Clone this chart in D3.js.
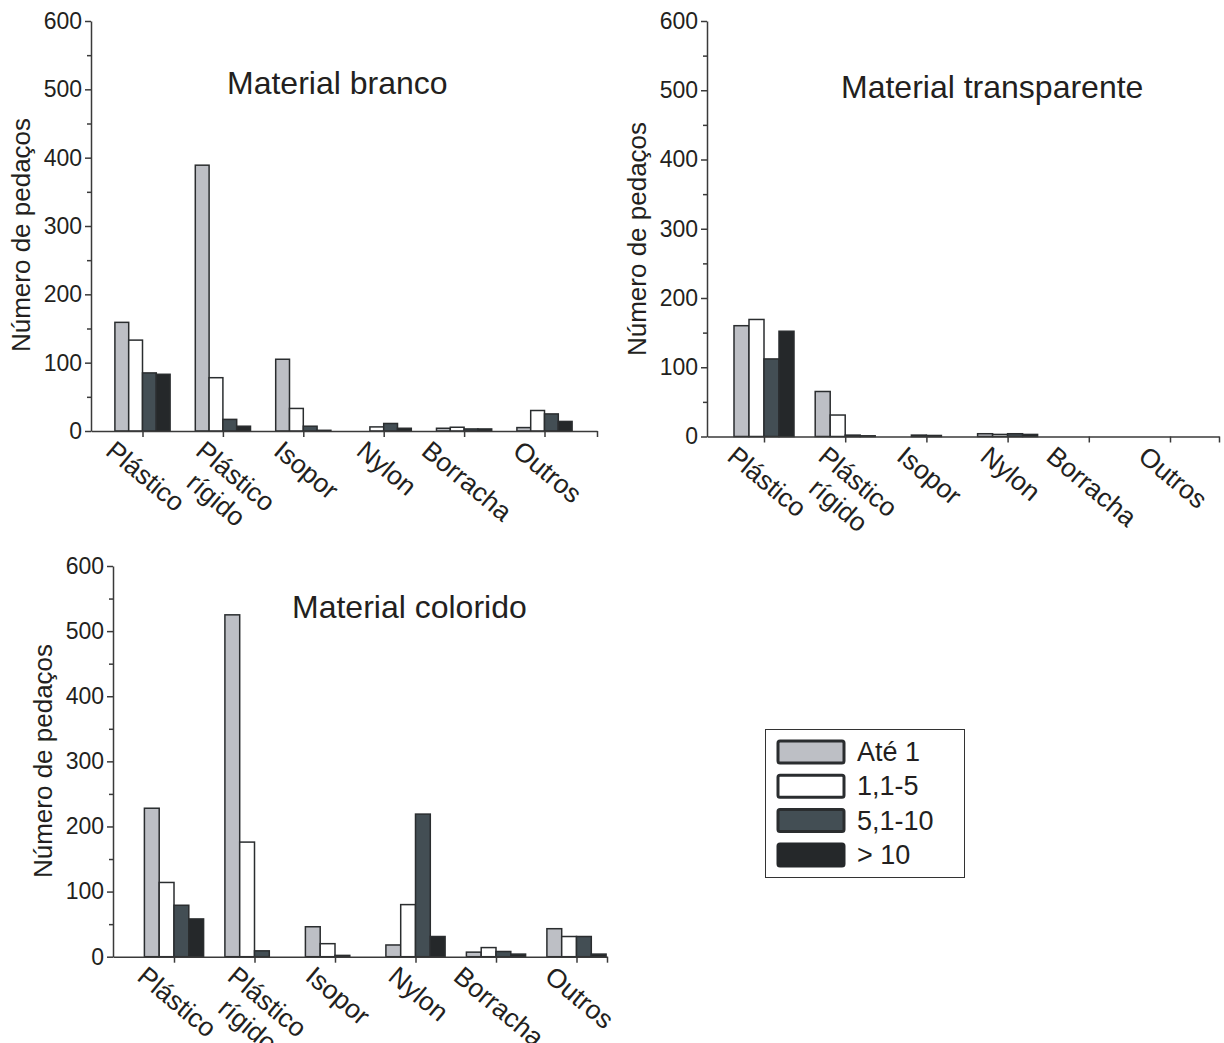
<!DOCTYPE html>
<html lang="pt">
<head>
<meta charset="utf-8">
<title>Número de pedaços por material</title>
<script src="https://cdn.jsdelivr.net/npm/d3@7"></script>
<style>
  body { margin: 0; background: #fff; }
  svg text { font-family: "Liberation Sans", Arial, sans-serif; fill: #231f20; }
</style>
</head>
<body>
<script>
// categories and size classes
var categories = ["Plástico", "Plástico\nrígido", "Isopor", "Nylon", "Borracha", "Outros"];
var sizeClasses = ["Até 1", "1,1-5", "5,1-10", "> 10"];
var yTicks = [0, 100, 200, 300, 400, 500, 600];

// values, one row per size class
var branco = [
  [159, 389, 105, 0, 4, 5],
  [133, 78, 33, 6, 5.5, 30],
  [85, 17, 7, 11, 3, 25],
  [83, 7, 1, 4, 3, 14]
];
var transparente = [
  [160, 65, 0, 4, 0, 0],
  [169, 31, 2, 3, 0, 0],
  [112, 2, 1.5, 4, 0, 0],
  [152, 1, 0, 3, 0, 0]
];
var colorido = [
  [228, 525, 46, 18, 7, 43],
  [114, 176, 20, 80, 14, 31],
  [79, 9, 2, 219, 8, 31],
  [58, 0, 0, 31, 4, 4]
];

var fills = ["#bdbfc5", "#ffffff", "#434e54", "#25282a"];
var strokeCol = "#2a2d2f";
var axisCol = "#3a3a3a";

var svg = d3.select("body").append("svg")
  .attr("width", 1224)
  .attr("height", 1043);

// layout of the three panels
var panels = [
  {title: "Material branco", data: branco, ax: 91, right: 597, y0: 431, yTop: 21,
   c0: 142.5, step: 80.4, bw: 13.8, tx: 227, ty: 94, ly: 235},
  {title: "Material transparente", data: transparente, ax: 707, right: 1219, y0: 436.5, yTop: 21,
   c0: 764, step: 81.2, bw: 15, tx: 841, ty: 98, ly: 239},
  {title: "Material colorido", data: colorido, ax: 113, right: 607, y0: 956.7, yTop: 566,
   c0: 174, step: 80.5, bw: 14.8, tx: 292, ty: 618, ly: 761}
];

panels.forEach(function(p) {
  var g = svg.append("g");

  var y = d3.scaleLinear().domain([0, 600]).range([p.y0, p.yTop]);
  var xStart = (p.ax - p.c0) / p.step;
  var xEnd = 5 + (p.right - (p.c0 + 5 * p.step)) / p.step;
  var x = d3.scaleLinear().domain([xStart, xEnd]).range([p.ax, p.right]);

  //bars
  p.data.forEach(function(series, j) {
    g.selectAll(null)
      .data(series.map(function(v, i) { return {i: i, v: v}; }).filter(function(d) { return d.v > 0; }))
      .enter().append("rect")
      .attr("x", function(d) { return x(d.i) + (j - 2) * p.bw; })
      .attr("width", p.bw)
      .attr("y", function(d) { return y(d.v); })
      .attr("height", function(d) { return p.y0 - y(d.v); })
      .attr("fill", fills[j])
      .attr("stroke", strokeCol)
      .attr("stroke-width", 1.5);
  });

  //y axis, major and minor ticks
  var yAxis = g.append("g")
    .attr("transform", "translate(" + p.ax + ",0)")
    .call(d3.axisLeft(y).tickValues(yTicks).tickSize(6).tickSizeOuter(0).tickPadding(3));
  yAxis.selectAll("text").style("font-size", "23px").attr("fill", "#231f20");
  g.append("g")
    .attr("transform", "translate(" + p.ax + ",0)")
    .call(d3.axisLeft(y).tickValues(d3.range(50, 600, 100)).tickSize(4).tickFormat(""))
    .select(".domain").remove();

  //x axis
  g.append("g")
    .attr("transform", "translate(0," + p.y0 + ")")
    .call(d3.axisBottom(x).tickValues(d3.range(6).concat([xEnd])).tickSize(6).tickSizeOuter(0).tickFormat(""));

  g.selectAll(".domain, .tick line").attr("stroke", axisCol).attr("stroke-width", 1.5);

  //category labels, rotated, block centred on the tick
  categories.forEach(function(c, i) {
    var cx = x(i) + 3;
    var lg = g.append("g").attr("transform", "translate(" + cx + "," + (p.y0 + 30) + ") rotate(40)");
    var t = lg.append("text").attr("text-anchor", "middle").style("font-size", "26.5px");
    c.split("\n").forEach(function(line, k) {
      t.append("tspan").attr("x", 0).attr("dy", k === 0 ? 0 : "1.15em").text(line);
    });
    var r = lg.node().getBoundingClientRect();
    var dx = cx - (r.left + r.right) / 2;
    var dy = (p.y0 + 4) - r.top;
    lg.attr("transform", "translate(" + (cx + dx) + "," + (p.y0 + 30 + dy) + ") rotate(40)");
  });

  //y label
  g.append("text")
    .attr("transform", "translate(" + (p.ax - 61) + "," + p.ly + ") rotate(-90)")
    .attr("text-anchor", "middle")
    .style("font-size", "26px")
    .text("Número de pedaços");

  //title
  g.append("text")
    .attr("x", p.tx)
    .attr("y", p.ty)
    .style("font-size", "32px")
    .text(p.title);
});

//legend
var legend = svg.append("g");
legend.append("rect")
  .attr("x", 765.5).attr("y", 729.5)
  .attr("width", 199).attr("height", 148)
  .attr("fill", "#fff").attr("stroke", "#333").attr("stroke-width", 1);

var rows = legend.selectAll("g.row")
  .data(sizeClasses)
  .enter().append("g")
  .attr("class", "row")
  .attr("transform", function(d, i) { return "translate(778," + (741 + i * 34.3) + ")"; });

rows.append("rect")
  .attr("width", 66).attr("height", 22).attr("rx", 2)
  .attr("fill", function(d, i) { return fills[i]; })
  .attr("stroke", function(d, i) { return i === 3 ? fills[3] : strokeCol; })
  .attr("stroke-width", 3);

rows.append("text")
  .attr("x", 79).attr("y", 20)
  .style("font-size", "27px")
  .text(function(d) { return d; });
</script>
</body>
</html>
